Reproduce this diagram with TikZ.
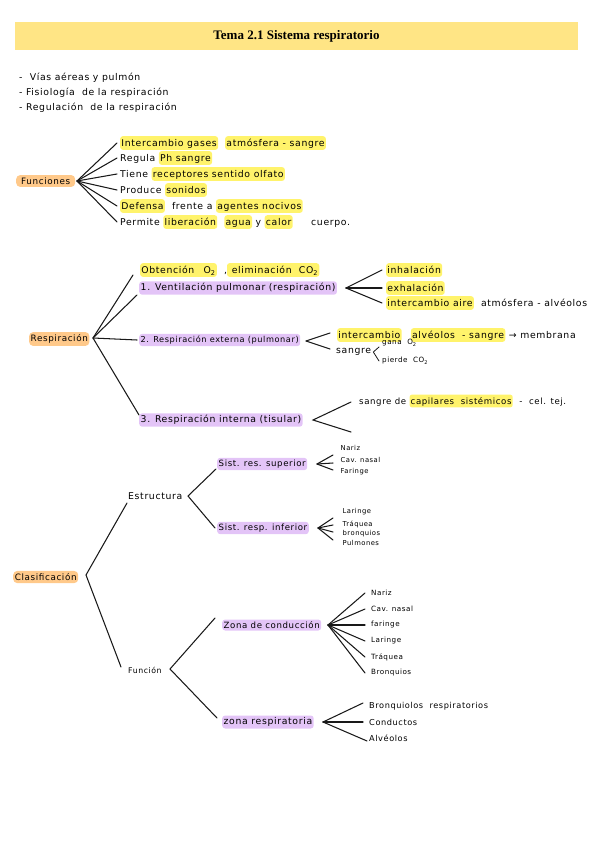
\documentclass[tikz,border=0pt]{standalone}
\usepackage{fontspec}
\setmainfont{Liberation Serif}
\newfontfamily\hwfont[LetterSpace=7]{DejaVu Sans}
\definecolor{titlebar}{HTML}{FFE585}
\definecolor{hly}{HTML}{FFF36B}
\definecolor{hlp}{HTML}{E3C4F7}
\definecolor{hlo}{HTML}{FFC98A}
\newcommand\hly[1]{\tikz[baseline=(hh.base)]\node[fill=hly,rounded corners=2.5pt,inner xsep=1.2pt,inner ysep=1.5pt](hh){\vphantom{Ápg}#1};}
\newcommand\fsz[1]{\hwfont\fontsize{#1}{#1}\selectfont}
\tikzset{
  txt/.style={font={\fsz{9.3}}, inner sep=1pt, anchor=west, text=black},
  txs/.style={txt, font={\fsz{6.8}}, inner sep=0.5pt},
  txm/.style={txt, font={\fsz{7.2}}},
  txr/.style={txt, font={\fsz{8.2}}},
  purp/.style={txt, fill=hlp, rounded corners=3pt, inner xsep=1.5pt, inner ysep=2pt},
  orng/.style={txt, font={\fsz{8.8}}, fill=hlo, rounded corners=4pt, inner xsep=1.5pt, inner ysep=2.5pt},
  br/.style={line width=1.05pt, line cap=round, draw=black!90},
}
\begin{document}
\begin{tikzpicture}[x=1pt,y=-1pt]
\useasboundingbox (0,0) rectangle (599,848);
% title
\node[fill=titlebar, minimum width=563pt, minimum height=28pt, inner sep=0pt] (title) at (296.5,36)
  {\fontsize{13}{15}\selectfont\bfseries Tema 2.1 Sistema respiratorio};
% bullets
\node[txt] (b1) at (18,78) {-\ \ Vías aéreas y pulmón};
\node[txt] (b2) at (18,93) {-\ Fisiología\ \ de la respiración};
\node[txt] (b3) at (18,108) {-\ Regulación\ \ de la respiración};
% Funciones
\node[orng, minimum width=59pt] (fun) at (16,181) {Funciones};
\node[txt] (f1) at (119,143) {\hly{Intercambio gases}\ \ \hly{atmósfera - sangre}};
\node[txt] (f2) at (119,158) {Regula \hly{Ph sangre}};
\node[txt] (f3) at (119,174) {Tiene \hly{receptores sentido olfato}};
\node[txt] (f4) at (119,190) {Produce \hly{sonidos}};
\node[txt] (f5) at (119,206) {\hly{Defensa}\ \ frente a \hly{agentes nocivos}};
\node[txt] (f6) at (119,222) {Permite \hly{liberación}\ \ \hly{agua} y \hly{calor}\qquad cuerpo.};
\coordinate (fv) at (77,181);
\foreach \n in {f1,f2,f3,f4,f5,f6} \draw[br] (fv) -- ([xshift=-2pt]\n.west);
% Respiracion
\node[orng, minimum width=58pt] (resp) at (29,339) {Respiración};
\node[txt] (r0) at (139,270) {\hly{Obtención\quad O\textsubscript{2}}\ \ ,\hly{ eliminación\ \ CO\textsubscript{2}}};
\node[purp] (r1) at (139,288) {1. Ventilación pulmonar (respiración)};
\node[purp, font={\fsz{8.2}}] (r2) at (139,340) {2. Respiración externa (pulmonar)};
\node[purp] (r3) at (139,420) {3. Respiración interna (tisular)};
\coordinate (rv) at (93,338);
\draw[br] (rv) -- ([xshift=-6pt,yshift=-5pt]r0.west);
\draw[br] (rv) -- ([xshift=-2pt,yshift=-7pt]r1.west);
\draw[br] (rv) -- ([xshift=-2pt]r2.west);
\draw[br] (rv) -- ([yshift=5pt]r3.west);
% ventilacion
\node[txt] (i1) at (385,270) {\hly{inhalación}};
\node[txt] (i2) at (385,288) {\hly{exhalación}};
\node[txt] (i3) at (385,303) {\hly{intercambio aire}\ \ atmósfera - alvéolos};
\coordinate (r1v) at (346,288);
\foreach \n in {i1,i2,i3} \draw[br] (r1v) -- ([xshift=-3pt]\n.west);
% externa
\node[txt] (r2a) at (336,335) {\hly{intercambio}\quad\hly{alvéolos\ \ - sangre}\ → membrana};
\node[txt] (r2b) at (335,352) {sangre};
\node[txm] (gana) at (381,343) {gana\ \ O\textsubscript{2}};
\node[txm] (pierde) at (381,361) {pierde\ \ CO\textsubscript{2}};
\coordinate (r2v) at (306,341);
\draw[br] (r2v) -- ([xshift=-6pt,yshift=2pt]r2a.west);
\draw[br] (r2v) -- ([xshift=-5pt,yshift=3pt]r2b.west);
\draw[br, line width=0.8pt] ([xshift=-2pt,yshift=-4pt]gana.west) -- ([xshift=1pt]r2b.east) -- ([xshift=-2pt]pierde.west);
% interna
\node[txt, font={\fsz{8.6}}] (r3t) at (358,401) {sangre de \hly{capilares\ \ sistémicos}\ \ - \ cel. tej.};
\coordinate (r3v) at (313,420);
\coordinate (r3u) at (351,402);
\coordinate (r3d) at (351,432);
\draw[br] (r3u) -- (r3v) -- (r3d);
% Clasificacion
\node[orng, minimum width=65pt] (cl) at (13,577) {Clasificación};
\node[txt] (est) at (127,496) {Estructura};
\node[txt, font={\fsz{7.8}}] (fn) at (127,670) {Función};
\coordinate (clv) at (86,575);
\draw[br] ([yshift=-7pt]est.west) -- (clv) -- ([xshift=-6pt,yshift=3pt]fn.west);
% Estructura
\node[purp, font={\fsz{8.6}}] (ss) at (217,464) {Sist. res. superior};
\node[purp, font={\fsz{8.6}}] (si) at (217,528) {Sist. resp. inferior};
\coordinate (estv) at (188,496);
\draw[br] ([xshift=-1pt,yshift=-5pt]ss.west) -- (estv) -- ([xshift=-2pt]si.west);
\node[txs] (s1) at (340,448) {Nariz};
\node[txs] (s2) at (340,460) {Cav. nasal};
\node[txs] (s3) at (340,472) {Faringe};
\coordinate (ssv) at (317,464);
\draw[br] (ssv) -- ([xshift=-7pt,yshift=-7pt]s1.west);
\draw[br] (ssv) -- ([xshift=-7pt,yshift=-3pt]s2.west);
\draw[br] (ssv) -- ([xshift=-7pt,yshift=2pt]s3.west);
\node[txs] (t1) at (342,512) {Laringe};
\node[txs] (t2) at (342,524) {Tráquea};
\node[txs] (t3) at (342,534) {bronquios};
\node[txs] (t4) at (342,543) {Pulmones};
\coordinate (siv) at (318,528);
\draw[br] (siv) -- ([xshift=-9pt,yshift=-6pt]t1.west);
\draw[br] (siv) -- ([xshift=-9pt,yshift=-1pt]t2.west);
\draw[br] (siv) -- ([xshift=-9pt,yshift=2pt]t3.west);
\draw[br] (siv) -- ([xshift=-9pt,yshift=3pt]t4.west);
% Funcion
\node[purp, font={\fsz{8.6}}] (zc) at (222,625) {Zona de conducción};
\node[purp] (zr) at (222,722) {zona respiratoria};
\coordinate (fnv) at (170,669);
\draw[br] ([xshift=-7pt,yshift=7pt]zc.west) -- (fnv) -- ([xshift=-5pt,yshift=4pt]zr.west);
\node[txm] (c1) at (370,593) {Nariz};
\node[txm] (c2) at (370,609) {Cav. nasal};
\node[txm] (c3) at (370,625) {faringe};
\node[txm] (c4) at (370,641) {Laringe};
\node[txm] (c5) at (370,657) {Tráquea};
\node[txm] (c6) at (370,673) {Bronquios};
\coordinate (zcv) at (328,625);
\foreach \n in {c1,c2,c3,c4,c5,c6} \draw[br] (zcv) -- ([xshift=-5pt]\n.west);
\node[txr] (z1) at (368,706) {Bronquiolos\ \ respiratorios};
\node[txr] (z2) at (368,722) {Conductos};
\node[txr] (z3) at (368,738) {Alvéolos};
\coordinate (zrv) at (323,722);
\draw[br] (zrv) -- ([xshift=-5pt,yshift=3pt]z1.west);
\draw[br] (zrv) -- ([xshift=-5pt]z2.west);
\draw[br] (zrv) -- ([xshift=-1pt,yshift=-3pt]z3.west);
\end{tikzpicture}
\end{document}
